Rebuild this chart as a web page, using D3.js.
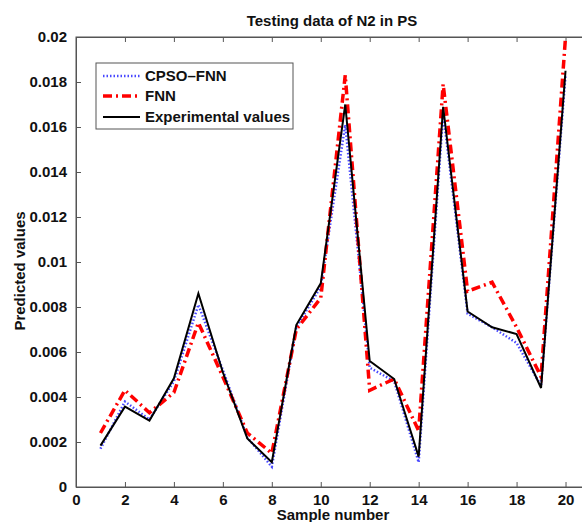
<!DOCTYPE html>
<html>
<head>
<meta charset="utf-8">
<script src="https://cdn.jsdelivr.net/npm/d3@7"></script>
<style>
  html, body { margin: 0; padding: 0; background: #fff; }
  svg { display: block; font-family: "Liberation Sans", Arial, Helvetica, sans-serif; font-weight: bold; }
</style>
</head>
<body>
<svg id="chart" width="582" height="522"></svg>
<script>
const samples = [1,2,3,4,5,6,7,8,9,10,11,12,13,14,15,16,17,18,19,20];
const cpsoFnn = [0.0017,0.0038,0.0030,0.0047,0.0081,0.0052,0.0022,0.0009,0.0071,0.0089,0.0161,0.0053,0.0047,0.0011,0.0166,0.0077,0.0071,0.0064,0.0045,0.0183];
const fnn = [0.0024,0.0043,0.0033,0.0042,0.0073,0.0049,0.0024,0.0015,0.0070,0.0084,0.0183,0.0043,0.0048,0.0025,0.0179,0.0087,0.0091,0.0071,0.0049,0.0200];
const experimental = [0.00184,0.00357,0.00295,0.00483,0.0086,0.0051,0.00216,0.0011,0.0072,0.00905,0.0170,0.0056,0.0048,0.00135,0.0169,0.0078,0.0071,0.0068,0.0044,0.0185];
const xTicks = [0,2,4,6,8,10,12,14,16,18,20];
const yTicks = [0,0.002,0.004,0.006,0.008,0.01,0.012,0.014,0.016,0.018,0.02];
const yTickLabels = ["0","0.002","0.004","0.006","0.008","0.01","0.012","0.014","0.016","0.018","0.02"];
const seriesNames = ["CPSO\u2013FNN","FNN","Experimental values"];
const titleText = "Testing data of N2 in PS";
const xLabel = "Sample number";
const yLabel = "Predicted values";

const svg = d3.select("#chart");
const L = 76, R = 590, T = 37, B = 487;
const x = d3.scaleLinear().domain([0,21]).range([L,R]);
const y = d3.scaleLinear().domain([0,0.02]).range([B,T]);
const axisColor = "#555";

svg.append("defs").append("clipPath").attr("id","plotclip")
  .append("rect").attr("x",L).attr("y",T-2).attr("width",R-L).attr("height",B-T+2);

svg.append("rect").attr("x",L).attr("y",T).attr("width",R-L).attr("height",B-T)
  .attr("fill","#fff").attr("stroke",axisColor).attr("stroke-width",1);

const gx = svg.append("g").attr("transform",`translate(0,${B})`)
  .call(d3.axisBottom(x).tickValues(xTicks).tickSize(-5).tickSizeOuter(0).tickPadding(7).tickFormat(d3.format("d")));
const gxTop = svg.append("g").attr("transform",`translate(0,${T})`)
  .call(d3.axisTop(x).tickValues(xTicks).tickSize(-5).tickSizeOuter(0).tickFormat(""));
const gy = svg.append("g").attr("transform",`translate(${L},0)`)
  .call(d3.axisLeft(y).tickValues(yTicks).tickSize(-5).tickSizeOuter(0).tickPadding(9).tickFormat((d,i)=>yTickLabels[i]));
[gx,gxTop,gy].forEach(g=>{
  g.selectAll(".domain").attr("stroke",axisColor);
  g.selectAll(".tick line").attr("stroke",axisColor);
  g.selectAll(".tick text").attr("fill","#111").style("font-size","15px").style("font-weight","bold")
    .style("font-family","'Liberation Sans', Arial, sans-serif");
});
gx.selectAll(".tick text").attr("dy","0.71em");

const line = d3.line().x((d,i)=>x(samples[i])).y(d=>y(d));
const plot = svg.append("g").attr("clip-path","url(#plotclip)");
const styles = [
  {data: cpsoFnn, color:"#4848ff", width:2.5, dash:"1.5,2"},
  {data: fnn, color:"#ff0000", width:3.5, dash:"9,4,2,4"},
  {data: experimental, color:"#000", width:2, dash:null}
];
styles.forEach(s=>{
  plot.append("path").datum(s.data).attr("d",line)
    .attr("fill","none").attr("stroke",s.color).attr("stroke-width",s.width)
    .attr("stroke-dasharray",s.dash).attr("stroke-linejoin","miter");
});

const lg = svg.append("g");
lg.append("rect").attr("x",96).attr("y",63).attr("width",197).attr("height",66)
  .attr("fill","#fff").attr("stroke",axisColor).attr("stroke-width",1);
const rowsY = [76, 96, 117];
styles.forEach((s,i)=>{
  lg.append("line").attr("x1",103).attr("x2",140).attr("y1",rowsY[i]).attr("y2",rowsY[i])
    .attr("stroke",s.color).attr("stroke-width",s.width).attr("stroke-dasharray",s.dash);
  lg.append("text").attr("x",145).attr("y",rowsY[i]).attr("dy","0.36em")
    .style("font-size","15px").attr("fill","#111").text(seriesNames[i]);
});

svg.append("text").attr("x",(L+R)/2 - 1).attr("y",26).attr("text-anchor","middle")
  .style("font-size","15px").attr("fill","#111").text(titleText);
svg.append("text").attr("x",(L+R)/2).attr("y",520).attr("text-anchor","middle")
  .style("font-size","15px").attr("fill","#111").text(xLabel);
svg.append("text").attr("transform","translate(25,271) rotate(-90)").attr("text-anchor","middle")
  .style("font-size","15px").attr("fill","#111").text(yLabel);
</script>
</body>
</html>
